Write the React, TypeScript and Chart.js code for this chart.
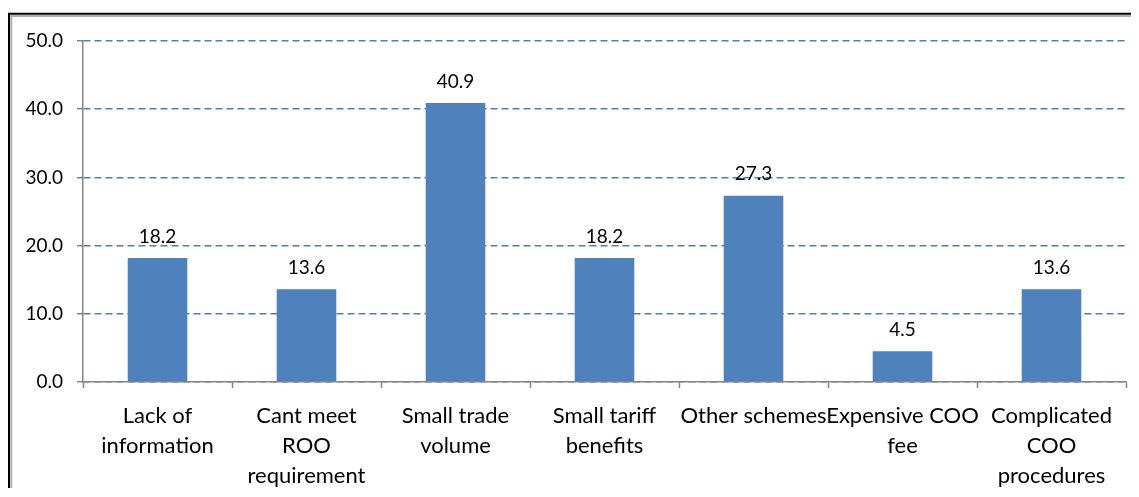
import React, { useEffect, useRef } from "react";
import { Chart, registerables } from "chart.js";

Chart.register(...registerables);

const categories: string[][] = [
  ["Lack of", "information"],
  ["Cant meet", "ROO", "requirement"],
  ["Small trade", "volume"],
  ["Small tariff", "benefits"],
  ["Other schemes"],
  ["Expensive COO", "fee"],
  ["Complicated", "COO", "procedures"],
];
const values: number[] = [18.2, 13.6, 40.9, 18.2, 27.3, 4.5, 13.6];
const yTicks: number[] = [0, 10, 20, 30, 40, 50];

const FONT = "Lato, 'Open Sans', sans-serif";

const framePlugin = {
  id: "frame",
  beforeDraw(chart: any) {
    const { ctx, width, height } = chart;
    ctx.save();
    ctx.fillStyle = "#ffffff";
    ctx.fillRect(0, 0, width, height);
    ctx.strokeStyle = "#000000";
    ctx.lineWidth = 2;
    ctx.beginPath();
    ctx.moveTo(1, height + 10);
    ctx.lineTo(1, 5.7);
    ctx.lineTo(width + 10, 5.7);
    ctx.stroke();
    ctx.strokeStyle = "#b0b0b0";
    ctx.lineWidth = 2;
    ctx.beginPath();
    ctx.moveTo(3.3, height + 10);
    ctx.lineTo(3.3, 8);
    ctx.lineTo(width + 10, 8);
    ctx.stroke();
    ctx.restore();
  },
};

const valueLabelPlugin = {
  id: "valueLabels",
  afterDatasetsDraw(chart: any) {
    const { ctx } = chart;
    const meta = chart.getDatasetMeta(0);
    ctx.save();
    ctx.font = `19px ${FONT}`;
    ctx.fillStyle = "#000000";
    ctx.textAlign = "center";
    ctx.textBaseline = "bottom";
    meta.data.forEach((bar: any, i: number) => {
      ctx.fillText(values[i].toFixed(1), bar.x, bar.y - 12);
    });
    ctx.restore();
  },
};

export default function App() {
  const ref = useRef<HTMLCanvasElement | null>(null);

  useEffect(() => {
    if (!ref.current) return;
    const chart = new Chart(ref.current, {
      type: "bar",
      data: {
        labels: categories,
        datasets: [
          {
            data: values,
            backgroundColor: "#4f81bd",
            borderWidth: 0,
            categoryPercentage: 0.4,
            barPercentage: 1,
          },
        ],
      },
      options: {
        responsive: false,
        animation: false,
        events: [],
        layout: { padding: { top: 33, right: 13, left: 0, bottom: 0 } },
        plugins: {
          legend: { display: false },
          tooltip: { enabled: false },
        },
        scales: {
          x: {
            offset: true,
            grid: {
              offset: true,
              drawOnChartArea: false,
              drawTicks: true,
              tickLength: 6,
              tickColor: "#868686",
              tickWidth: 1.5,
            },
            border: { color: "#868686", width: 1.5 },
            ticks: {
              color: "#000000",
              font: { family: FONT, size: 22, lineHeight: 1.36 },
              padding: 13,
              maxRotation: 0,
              autoSkip: false,
            },
            afterFit(scale: any) {
              scale.height = 480 - 374;
            },
          },
          y: {
            min: 0,
            max: 50,
            afterBuildTicks(scale: any) {
              scale.ticks = yTicks.map((v) => ({ value: v }));
            },
            grid: {
              color: "#4a7ebb",
              lineWidth: 1.5,
              drawTicks: true,
              tickLength: 6,
              tickColor: "#868686",
              tickWidth: 1.5,
            },
            border: { color: "#868686", width: 1.5, dash: [7, 4] },
            ticks: {
              color: "#000000",
              font: { family: FONT, size: 19 },
              padding: 14,
              callback: (v: any) => Number(v).toFixed(1),
            },
            afterFit(scale: any) {
              scale.width = 75;
            },
          },
        },
      },
      plugins: [framePlugin, valueLabelPlugin],
    });
    return () => chart.destroy();
  }, []);

  return (
    <canvas
      ref={ref}
      width={1131}
      height={480}
      style={{ display: "block", width: 1131, height: 480 }}
    />
  );
}
